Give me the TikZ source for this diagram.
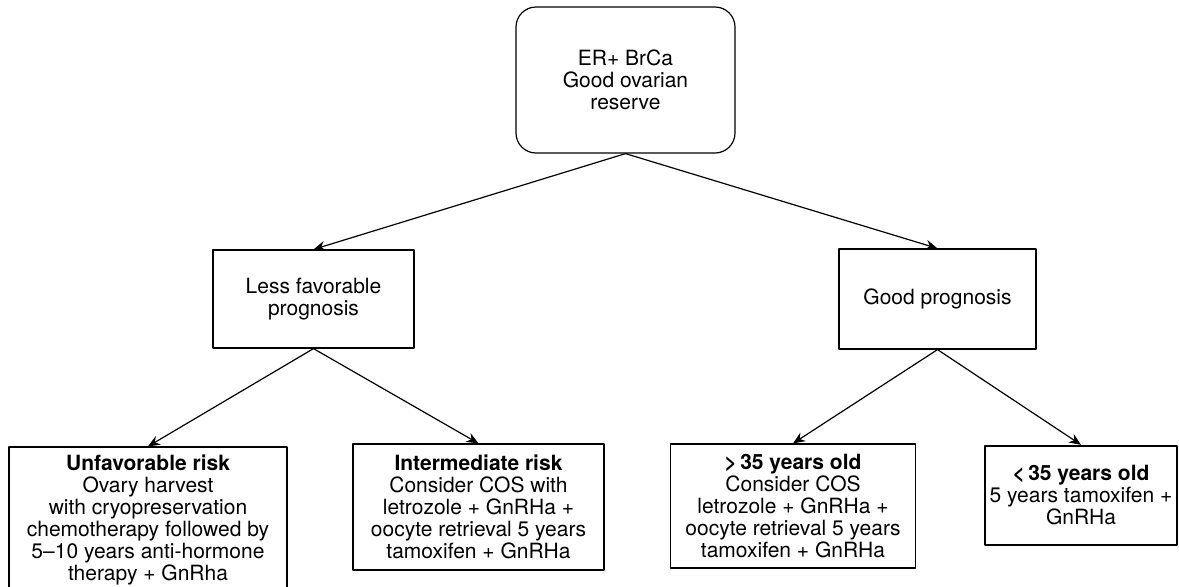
\documentclass[tikz,border=0pt]{standalone}
\usepackage{fontspec}
\setmainfont{TeX Gyre Heros}
\usetikzlibrary{arrows.meta}
\begin{document}
\begin{tikzpicture}[x=0.5pt, y=-0.5pt, line cap=round, line join=round, font=\fontsize{10.5}{11}\selectfont, >={Stealth[length=6pt,width=5pt,inset=2pt]},
	box/.style={draw, rectangle, align=center, inner sep=2pt, line width=0.6pt},
	rootbox/.style={box, rounded corners=10pt}]
				\useasboundingbox (0,0) rectangle (1179,586);
				\node[rootbox, minimum width=109.5pt, minimum height=73pt] (root) at (625.5,80) {ER+ BrCa\\Good ovarian\\reserve};
				\node[box, minimum width=100.5pt, minimum height=49pt] (less) at (313.5,299) {Less favorable\\prognosis};
				\node[box, minimum width=98.5pt, minimum height=50pt] (good) at (937.5,299) {Good prognosis};
				\node[box, minimum width=139pt, minimum height=72.5pt] (unfav) at (148,519.5) {\textbf{Unfavorable risk}\\Ovary harvest\\with cryopreservation\\chemotherapy followed by\\5--10 years anti-hormone\\therapy + GnRha};
				\node[box, minimum width=125.5pt, minimum height=63pt] (inter) at (478.5,507) {\textbf{Intermediate risk}\\Consider COS with\\letrozole + GnRHa +\\oocyte retrieval 5 years\\tamoxifen + GnRHa};
				\node[box, minimum width=122.5pt, minimum height=62pt] (older) at (793,506) {\textbf{>\,35 years old}\\Consider COS\\letrozole + GnRHa +\\oocyte retrieval 5 years\\tamoxifen + GnRHa};
				\node[box, line width=1.2pt, minimum width=96pt, minimum height=49.5pt] (younger) at (1081,495.5) {\textbf{<\,35 years old}\\5 years tamoxifen +\\GnRHa};
				\foreach \a/\b in {root/less, root/good, less/unfav, less/inter, good/older, good/younger} {
					\draw[->, line width=0.6pt] (\a.south) -- (\b.north);
				}
			\end{tikzpicture}
\end{document}
